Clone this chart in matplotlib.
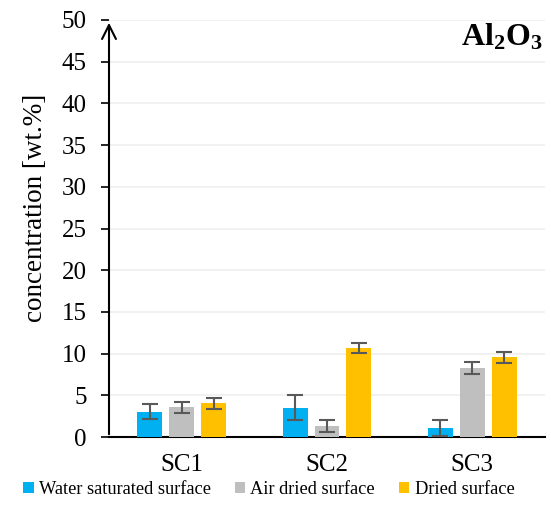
import matplotlib.pyplot as plt
import numpy as np

plt.rcParams['font.family'] = ['Liberation Serif', 'DejaVu Serif']
plt.rcParams['mathtext.fontset'] = 'custom'
plt.rcParams['mathtext.rm'] = 'Liberation Serif'
plt.rcParams['mathtext.bf'] = 'Liberation Serif:bold'

samples = ['SC1', 'SC2', 'SC3']
series = ['Water saturated surface', 'Air dried surface', 'Dried surface']
water = [3.0, 3.5, 1.05]
air = [3.55, 1.3, 8.25]
dried = [4.05, 10.65, 9.55]
water_err = [0.9, 1.5, 0.95]
air_err = [0.7, 0.75, 0.7]
dried_err = [0.65, 0.6, 0.7]
colors = ['#00b0f0', '#bfbfbf', '#ffc000']

fig = plt.figure(figsize=(5.51, 5.08), dpi=100)
ax = fig.add_axes([109/551, 71/508, 436/551, 417/508])

x = np.arange(len(samples))
w = 0.172
step = 0.22
for i, (vals, errs) in enumerate(zip([water, air, dried], [water_err, air_err, dried_err])):
    ax.bar(x + (i - 1) * step, vals, w, color=colors[i], label=series[i], zorder=3,
           yerr=errs, error_kw=dict(ecolor='#595959', elinewidth=1.5, capsize=5.5, capthick=1.5, zorder=4))

ax.set_xlim(-0.5, 2.5)
ax.set_ylim(0, 50)
ax.set_yticks(np.arange(0, 51, 5))
ax.set_xticks(x)
ax.set_xticklabels(samples, fontsize=18)
ax.tick_params(axis='y', labelsize=18, length=6, width=1.2, direction='out', pad=10)
ax.tick_params(axis='x', length=0, pad=12)
ax.grid(axis='y', color='#efefef', linewidth=1.2, zorder=0)
for s in ['top', 'right', 'left']:
    ax.spines[s].set_visible(False)
ax.spines['bottom'].set_linewidth(1.5)
# y axis drawn as an arrow
ax.annotate('', xy=(0, 1.0), xytext=(0, 0), xycoords='axes fraction',
            arrowprops=dict(arrowstyle='->', lw=1.5, color='black', mutation_scale=25))

ax.set_ylabel('concentration [wt.%]', fontsize=19.5)
ax.yaxis.set_label_coords(-0.14, 0.55)
ax.text(0.995, 0.995, r'$\mathbf{Al_2O_3}$', transform=ax.transAxes, ha='right', va='top', fontsize=23)

fig.legend(loc='lower center', bbox_to_anchor=(0.488, -0.012), ncol=3, frameon=False, fontsize=13.2,
           handlelength=0.55, handleheight=0.55, handletextpad=0.3, columnspacing=1.3)

fig.savefig('out.png', dpi=100)
